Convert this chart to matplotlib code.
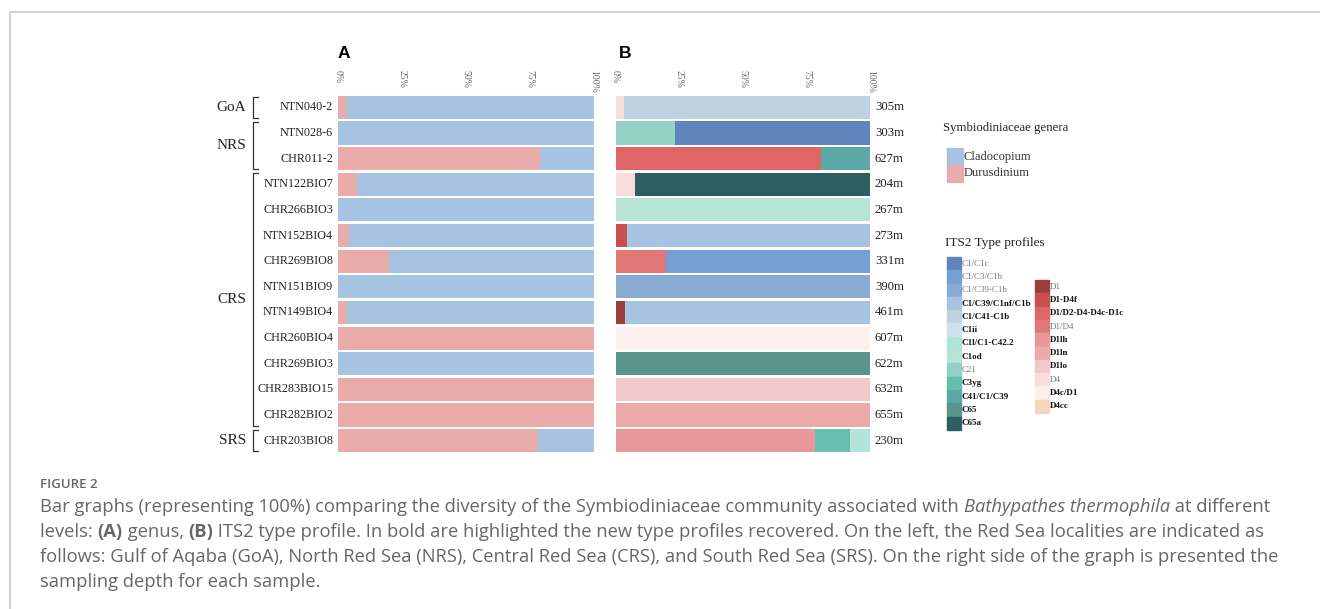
import matplotlib
matplotlib.use("Agg")
import matplotlib.pyplot as plt
from matplotlib.patches import Rectangle
from matplotlib.lines import Line2D
from matplotlib import transforms

# ---- data ----
samples = ["NTN040-2", "NTN028-6", "CHR011-2", "NTN122BIO7", "CHR266BIO3",
           "NTN152BIO4", "CHR269BIO8", "NTN151BIO9", "NTN149BIO4", "CHR260BIO4",
           "CHR269BIO3", "CHR283BIO15", "CHR282BIO2", "CHR203BIO8"]
depths = ["305m", "303m", "627m", "204m", "267m", "273m", "331m", "390m",
          "461m", "607m", "622m", "632m", "655m", "230m"]
regions = [("GoA", 0, 0), ("NRS", 1, 2), ("CRS", 3, 12), ("SRS", 13, 13)]

durusdinium = [3.5, 0, 79, 7.5, 0, 4.3, 20, 0, 3.5, 100, 0, 100, 100, 78]
cladocopium = [96.5, 100, 21, 92.5, 100, 95.7, 80, 100, 96.5, 0, 100, 0, 0, 22]
genus_colors = {"Cladocopium": "#a7c3e2", "Durusdinium": "#eaabab"}

its2_names = ["C1/C1c", "C1/C3/C1b", "C1/C39-C1b", "C1/C39/C1nf/C1b", "C1/C41-C1b",
              "C1ii", "C1l/C1-C42.2", "C1od", "C21", "C3yg", "C41/C1/C39", "C65", "C65a",
              "D1", "D1-D4f", "D1/D2-D4-D4c-D1c", "D1/D4", "D1lh", "D1ln", "D1lo",
              "D4", "D4c/D1", "D4cc"]
its2_colors = ["#5f84bc", "#74a0d4", "#89abd3", "#a7c3e3", "#bed3e1",
               "#d0e0ee", "#b3e4da", "#b7e4d5", "#94d0c4", "#66bfad", "#5ca8a6",
               "#57958a", "#2f5e60",
               "#9a3e3e", "#c94f4f", "#e06565", "#e07878", "#e89898", "#eba9a9",
               "#f2c9c9", "#f9dcdc", "#fcefee", "#f2d5bd"]
its2_new = ["C1/C39/C1nf/C1b", "C1/C41-C1b", "C1ii", "C1l/C1-C42.2", "C1od", "C3yg",
            "C41/C1/C39", "C65", "C65a", "D1-D4f", "D1/D2-D4-D4c-D1c", "D1lh",
            "D1ln", "D1lo", "D4c/D1", "D4cc"]

its2_profile = [
    [("D4", 3.3), ("C1/C41-C1b", 96.7)],
    [("C21", 23.5), ("C1/C1c", 76.5)],
    [("D1/D2-D4-D4c-D1c", 80.6), ("C41/C1/C39", 19.4)],
    [("D4", 7.6), ("C65a", 92.4)],
    [("C1od", 100)],
    [("D1-D4f", 4.4), ("C1/C39/C1nf/C1b", 95.6)],
    [("D1/D4", 19.9), ("C1/C3/C1b", 80.1)],
    [("C1/C39-C1b", 100)],
    [("D1", 3.7), ("C1/C39/C1nf/C1b", 96.3)],
    [("D4c/D1", 100)],
    [("C65", 100)],
    [("D1lo", 100)],
    [("D1ln", 100)],
    [("D1lh", 78.2), ("C3yg", 13.8), ("C1l/C1-C42.2", 8.0)],
]
ticks = [0, 25, 50, 75, 100]

# ---- figure ----
W, H = 1320, 609
fig = plt.figure(figsize=(W / 100, H / 100), dpi=100)
serif = ["Liberation Serif", "DejaVu Serif"]
cap_font = ["Open Sans", "DejaVu Sans"]


def fx(px):
    return px / W


def fy(py):
    return 1 - py / H


top_px, bot_px = 94.5, 453.5
n = len(samples)
colmap = dict(zip(its2_names, its2_colors))


def make_ax(left_px, right_px):
    ax = fig.add_axes([fx(left_px), fy(bot_px), fx(right_px - left_px),
                       (bot_px - top_px) / H])
    ax.set_xlim(0, 100)
    ax.set_ylim(n - 0.5, -0.5)
    ax.axis("off")
    tr = transforms.blended_transform_factory(ax.transData, fig.transFigure)
    for t in ticks:
        ax.text(t, fy(70), f"{t}%", rotation=270, ha="center", va="top",
                fontsize=7, color="#666666", family=serif, transform=tr)
    return ax


axA = make_ax(338, 594)
axB = make_ax(615.5, 870.3)

y = list(range(n))
axA.barh(y, durusdinium, height=0.9, color=genus_colors["Durusdinium"])
axA.barh(y, cladocopium, left=durusdinium, height=0.9,
         color=genus_colors["Cladocopium"])

for i, parts in enumerate(its2_profile):
    left = 0
    for name, val in parts:
        axB.barh(i, val, left=left, height=0.9, color=colmap[name])
        left += val
    axB.text(101.8, i, depths[i], ha="left", va="center", fontsize=9.2,
             family=serif, color="#222222")

for i, s in enumerate(samples):
    axA.text(-1.9, i, s, ha="right", va="center", fontsize=8.7,
             family=serif, color="#222222")

# region brackets
trA = transforms.blended_transform_factory(fig.transFigure, axA.transData)
for name, a, b in regions:
    y0, y1 = a - 0.42, b + 0.42
    axA.add_line(Line2D([fx(258), fx(253), fx(253), fx(258)], [y0, y0, y1, y1],
                        transform=trA, color="#333333", lw=0.9, clip_on=False))
    axA.text(fx(246), (a + b) / 2, name, ha="right", va="center", fontsize=11,
             family=serif, color="#222222", transform=trA)

fig.text(fx(338), fy(54), "A", fontsize=12.5, fontweight="bold", ha="left",
         va="center", family="Liberation Sans")
fig.text(fx(619), fy(54), "B", fontsize=12.5, fontweight="bold", ha="left",
         va="center", family="Liberation Sans")

# legends
fig.text(fx(943), fy(128), "Symbiodiniaceae genera", fontsize=9.2, family=serif,
         va="center", color="#222222")
for k, g in enumerate(["Cladocopium", "Durusdinium"]):
    y0 = 148 + k * 17
    fig.add_artist(Rectangle((fx(947), fy(y0 + 17)), fx(16), 17 / H,
                             color=genus_colors[g], transform=fig.transFigure))
    fig.text(fx(964), fy(y0 + 8.5), g, fontsize=9, family=serif, va="center",
             color="#333333")

fig.text(fx(945), fy(243), "ITS2 Type profiles", fontsize=9.5, family=serif,
         va="center", color="#222222")
step = 13.3
c_names = [nm for nm in its2_names if nm.startswith("C")]
d_names = [nm for nm in its2_names if nm.startswith("D")]
for col, names, x0, y_start in [(0, c_names, 947, 257), (1, d_names, 1035, 280)]:
    for k, nm in enumerate(names):
        y0 = y_start + k * step
        fig.add_artist(Rectangle((fx(x0), fy(y0 + step)), fx(13.5), step / H,
                                 color=colmap[nm], transform=fig.transFigure))
        bold = nm in its2_new
        fig.text(fx(x0 + 15), fy(y0 + step / 2), nm, fontsize=6.5, family=serif,
                 va="center", fontweight="bold" if bold else "normal",
                 color="#111111" if bold else "#777777")

# frame
fig.add_artist(Line2D([fx(9.5), fx(9.5), 1], [0, fy(11.5), fy(11.5)],
                      transform=fig.transFigure, color="#c8c8c8", lw=1.2))

# caption
fig.text(fx(40), fy(485), "FIGURE 2", fontsize=9.5, family=cap_font,
         color="#666666", va="center", fontweight="semibold")

renderer = fig.canvas.get_renderer()


def runs(x_px, y_px, parts):
    x = x_px
    for txt, style in parts:
        kw = {}
        if style == "b":
            kw["fontweight"] = "bold"
        elif style == "i":
            kw["fontstyle"] = "italic"
        t = fig.text(fx(x), fy(y_px), txt, fontsize=13.2, family=cap_font,
                     color="#666666", va="center", **kw)
        x += t.get_window_extent(renderer).width


lines = [
    [("Bar graphs (representing 100%) comparing the diversity of the "
      "Symbiodiniaceae community associated with ", ""),
     ("Bathypathes thermophila", "i"), (" at different", "")],
    [("levels: ", ""), ("(A)", "b"), (" genus, ", ""), ("(B)", "b"),
     (" ITS2 type profile. In bold are highlighted the new type profiles "
      "recovered. On the left, the Red Sea localities are indicated as", "")],
    [("follows: Gulf of Aqaba (GoA), North Red Sea (NRS), Central Red Sea (CRS), "
      "and South Red Sea (SRS). On the right side of the graph is presented the", "")],
    [("sampling depth for each sample.", "")],
]
for k, parts in enumerate(lines):
    runs(40, 507 + k * 25, parts)

fig.savefig("out.png", dpi=100)
